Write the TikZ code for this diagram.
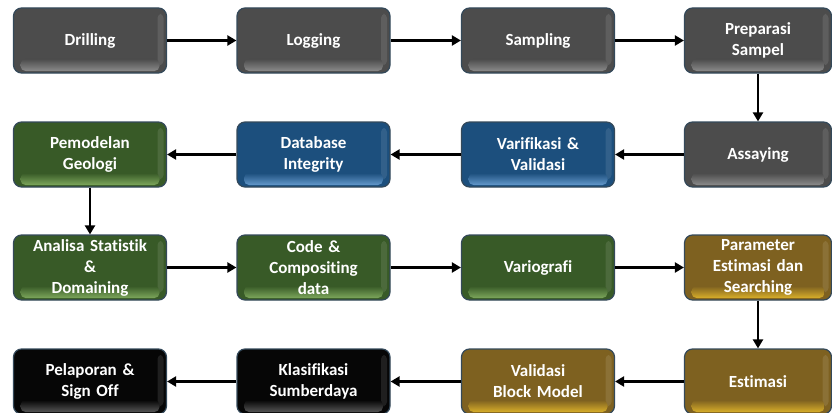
\documentclass[tikz,border=0pt]{standalone}
\usepackage{fontspec}
\setmainfont{Carlito}[Ligatures=NoCommon, WordSpace=0.85]
\usetikzlibrary{arrows.meta,calc}
\definecolor{grayF}{HTML}{4C4C4C}\definecolor{grayH}{HTML}{8A8A8A}
\definecolor{blueF}{HTML}{1C4F7D}\definecolor{blueH}{HTML}{6398CB}
\definecolor{greenF}{HTML}{385A27}\definecolor{greenH}{HTML}{7CA65B}
\definecolor{goldF}{HTML}{7E6120}\definecolor{goldH}{HTML}{D8AE2A}
\definecolor{blackF}{HTML}{060606}\definecolor{blackH}{HTML}{555555}
\definecolor{edge}{HTML}{34495A}
\tikzset{
  stepbox/.style 2 args={draw=edge, line width=1.2pt, rounded corners=8pt, fill=#1,
    minimum width=153pt, minimum height=65pt, inner sep=0pt,
    font=\bfseries\fontsize{17}{21}\selectfont, text=white, align=center, text width=150pt,
    path picture={
      \fill[#1!80!white, opacity=0.5, rounded corners=4pt]
        ($(path picture bounding box.north east)+(-9pt,-6pt)$) rectangle
        ($(path picture bounding box.south east)+(-3pt,8pt)$);
      \shade[top color=#1, bottom color=#2, rounded corners=5pt]
        ($(path picture bounding box.south west)+(7pt,2pt)$) rectangle
        ($(path picture bounding box.south east)+(-7pt,14pt)$);
    }},
  narrow/.style={minimum width=147pt, text width=145pt},
  flow/.style={line width=2.6pt, -{Triangle[length=9pt,width=10pt]}}
}
\begin{document}
\begin{tikzpicture}[x=1pt,y=-1pt]
\useasboundingbox (0,0) rectangle (832,412);
\def\ca{90}\def\cb{313.5}\def\cc{538}\def\cd{758}
\def\ra{40.5}\def\rb{154.5}\def\rc{267.5}\def\rd{381.5}
\node[stepbox={grayF}{grayH}] (drill) at (\ca,\ra) {Drilling};
\node[stepbox={grayF}{grayH}] (log) at (\cb,\ra) {Logging};
\node[stepbox={grayF}{grayH}] (samp) at (\cc,\ra) {Sampling};
\node[stepbox={grayF}{grayH}, narrow] (prep) at (\cd,\ra) {Preparasi\\Sampel};
\node[stepbox={grayF}{grayH}, narrow] (assay) at (\cd,\rb) {Assaying};
\node[stepbox={blueF}{blueH}] (veri) at (\cc,\rb) {Varifikasi \&\\Validasi};
\node[stepbox={blueF}{blueH}] (db) at (\cb,\rb) {Database\\Integrity};
\node[stepbox={greenF}{greenH}] (pemo) at (\ca,\rb) {Pemodelan\\Geologi};
\node[stepbox={greenF}{greenH}] (anal) at (\ca,\rc) {Analisa Statistik\\\&\\Domaining};
\node[stepbox={greenF}{greenH}] (code) at (\cb,\rc) {Code \&\\Compositing\\data};
\node[stepbox={greenF}{greenH}] (vario) at (\cc,\rc) {Variografi};
\node[stepbox={goldF}{goldH}, narrow] (param) at (\cd,\rc) {Parameter\\Estimasi dan\\Searching};
\node[stepbox={goldF}{goldH}, narrow] (esti) at (\cd,\rd) {Estimasi};
\node[stepbox={goldF}{goldH}] (valb) at (\cc,\rd) {Validasi\\Block Model};
\node[stepbox={blackF}{blackH}] (klas) at (\cb,\rd) {Klasifikasi\\Sumberdaya};
\node[stepbox={blackF}{blackH}] (lapor) at (\ca,\rd) {Pelaporan \&\\Sign Off};
\draw[flow] (drill) -- (log);
\draw[flow] (log) -- (samp);
\draw[flow] (samp) -- (prep);
\draw[flow] (prep) -- (assay);
\draw[flow] (assay) -- (veri);
\draw[flow] (veri) -- (db);
\draw[flow] (db) -- (pemo);
\draw[flow] (pemo) -- (anal);
\draw[flow] (anal) -- (code);
\draw[flow] (code) -- (vario);
\draw[flow] (vario) -- (param);
\draw[flow] (param) -- (esti);
\draw[flow] (esti) -- (valb);
\draw[flow] (valb) -- (klas);
\draw[flow] (klas) -- (lapor);
\end{tikzpicture}
\end{document}
